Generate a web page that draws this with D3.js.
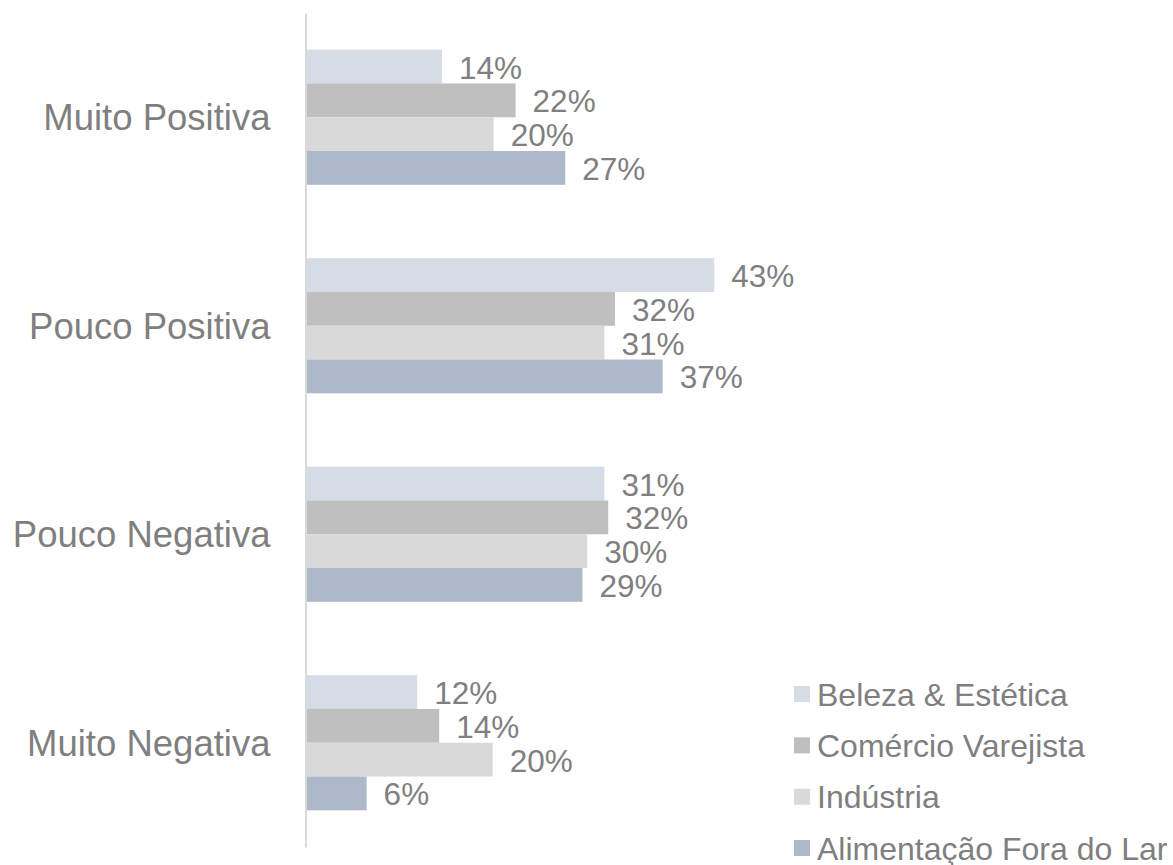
<!DOCTYPE html>
<html>
<head>
<meta charset="utf-8">
<script src="https://cdn.jsdelivr.net/npm/d3@7"></script>
<style>
  html, body { margin: 0; padding: 0; background: #ffffff; }
  svg { display: block; font-family: "Liberation Sans", Arial, sans-serif; }
</style>
</head>
<body>
<svg id="chart" width="1173" height="865"></svg>
<script>
const categories = ["Muito Positiva", "Pouco Positiva", "Pouco Negativa", "Muito Negativa"];
const seriesNames = ["Beleza & Estética", "Comércio Varejista", "Indústria", "Alimentação Fora do Lar"];
const belezaEstetica = [14.3, 42.8, 31.3, 11.7];
const comercioVarejista = [22.0, 32.4, 31.7, 14.0];
const industria = [19.7, 31.3, 29.5, 19.6];
const alimentacaoForaDoLar = [27.2, 37.4, 29.0, 6.4];
const seriesColors = ["#D6DCE5", "#BFBFBF", "#D9D9D9", "#ADB9CA"];

const seriesValues = [belezaEstetica, comercioVarejista, industria, alimentacaoForaDoLar];
const textColor = "#7F7F7F";
const fontStack = "'Liberation Sans', Arial, sans-serif";

const svg = d3.select("#chart");

const x = d3.scaleLinear().domain([0, 50]).range([305.5, 305.5 + 477.5]);
const y = d3.scaleBand().domain(categories).range([13, 847]).paddingInner(0.352).paddingOuter(0.176);
const ySub = d3.scaleBand().domain(seriesNames).range([0, y.bandwidth()]).padding(0);

const rows = [];
categories.forEach((c, ci) => {
  seriesNames.forEach((s, si) => {
    rows.push({ cat: c, series: s, si: si, value: seriesValues[si][ci] });
  });
});

// bars
svg.append("g").selectAll("rect").data(rows).join("rect")
  .attr("x", x(0))
  .attr("y", d => y(d.cat) + ySub(d.series))
  .attr("width", d => x(d.value) - x(0))
  .attr("height", ySub.bandwidth())
  .attr("fill", d => seriesColors[d.si]);

// value labels
svg.append("g").selectAll("text").data(rows).join("text")
  .attr("x", d => x(d.value) + 17)
  .attr("y", d => y(d.cat) + ySub(d.series) + ySub.bandwidth() / 2 + 12)
  .attr("fill", textColor)
  .style("font-family", fontStack)
  .style("font-size", "31.5px")
  .text(d => Math.round(d.value) + "%");

// category axis
const axis = svg.append("g")
  .attr("transform", `translate(${x(0)},0)`)
  .call(d3.axisLeft(y).tickSize(0).tickPadding(35));
axis.select(".domain").attr("stroke", "#D9D9D9").attr("stroke-width", 2);
axis.selectAll(".tick text")
  .attr("fill", textColor)
  .attr("dy", "0.35em")
  .style("font-size", "36.5px")
  .style("font-family", fontStack);

// legend
const legendY = d3.scalePoint().domain(seriesNames).range([694, 848]);
const legend = svg.append("g").selectAll("g").data(seriesNames).join("g")
  .attr("transform", d => `translate(794,${legendY(d)})`);
legend.append("rect")
  .attr("x", 0).attr("y", -8).attr("width", 16).attr("height", 16)
  .attr("fill", (d, i) => seriesColors[i]);
legend.append("text")
  .attr("x", 23).attr("y", 11.5)
  .attr("fill", textColor)
  .style("font-family", fontStack)
  .style("font-size", "32px")
  .text(d => d);
</script>
</body>
</html>
